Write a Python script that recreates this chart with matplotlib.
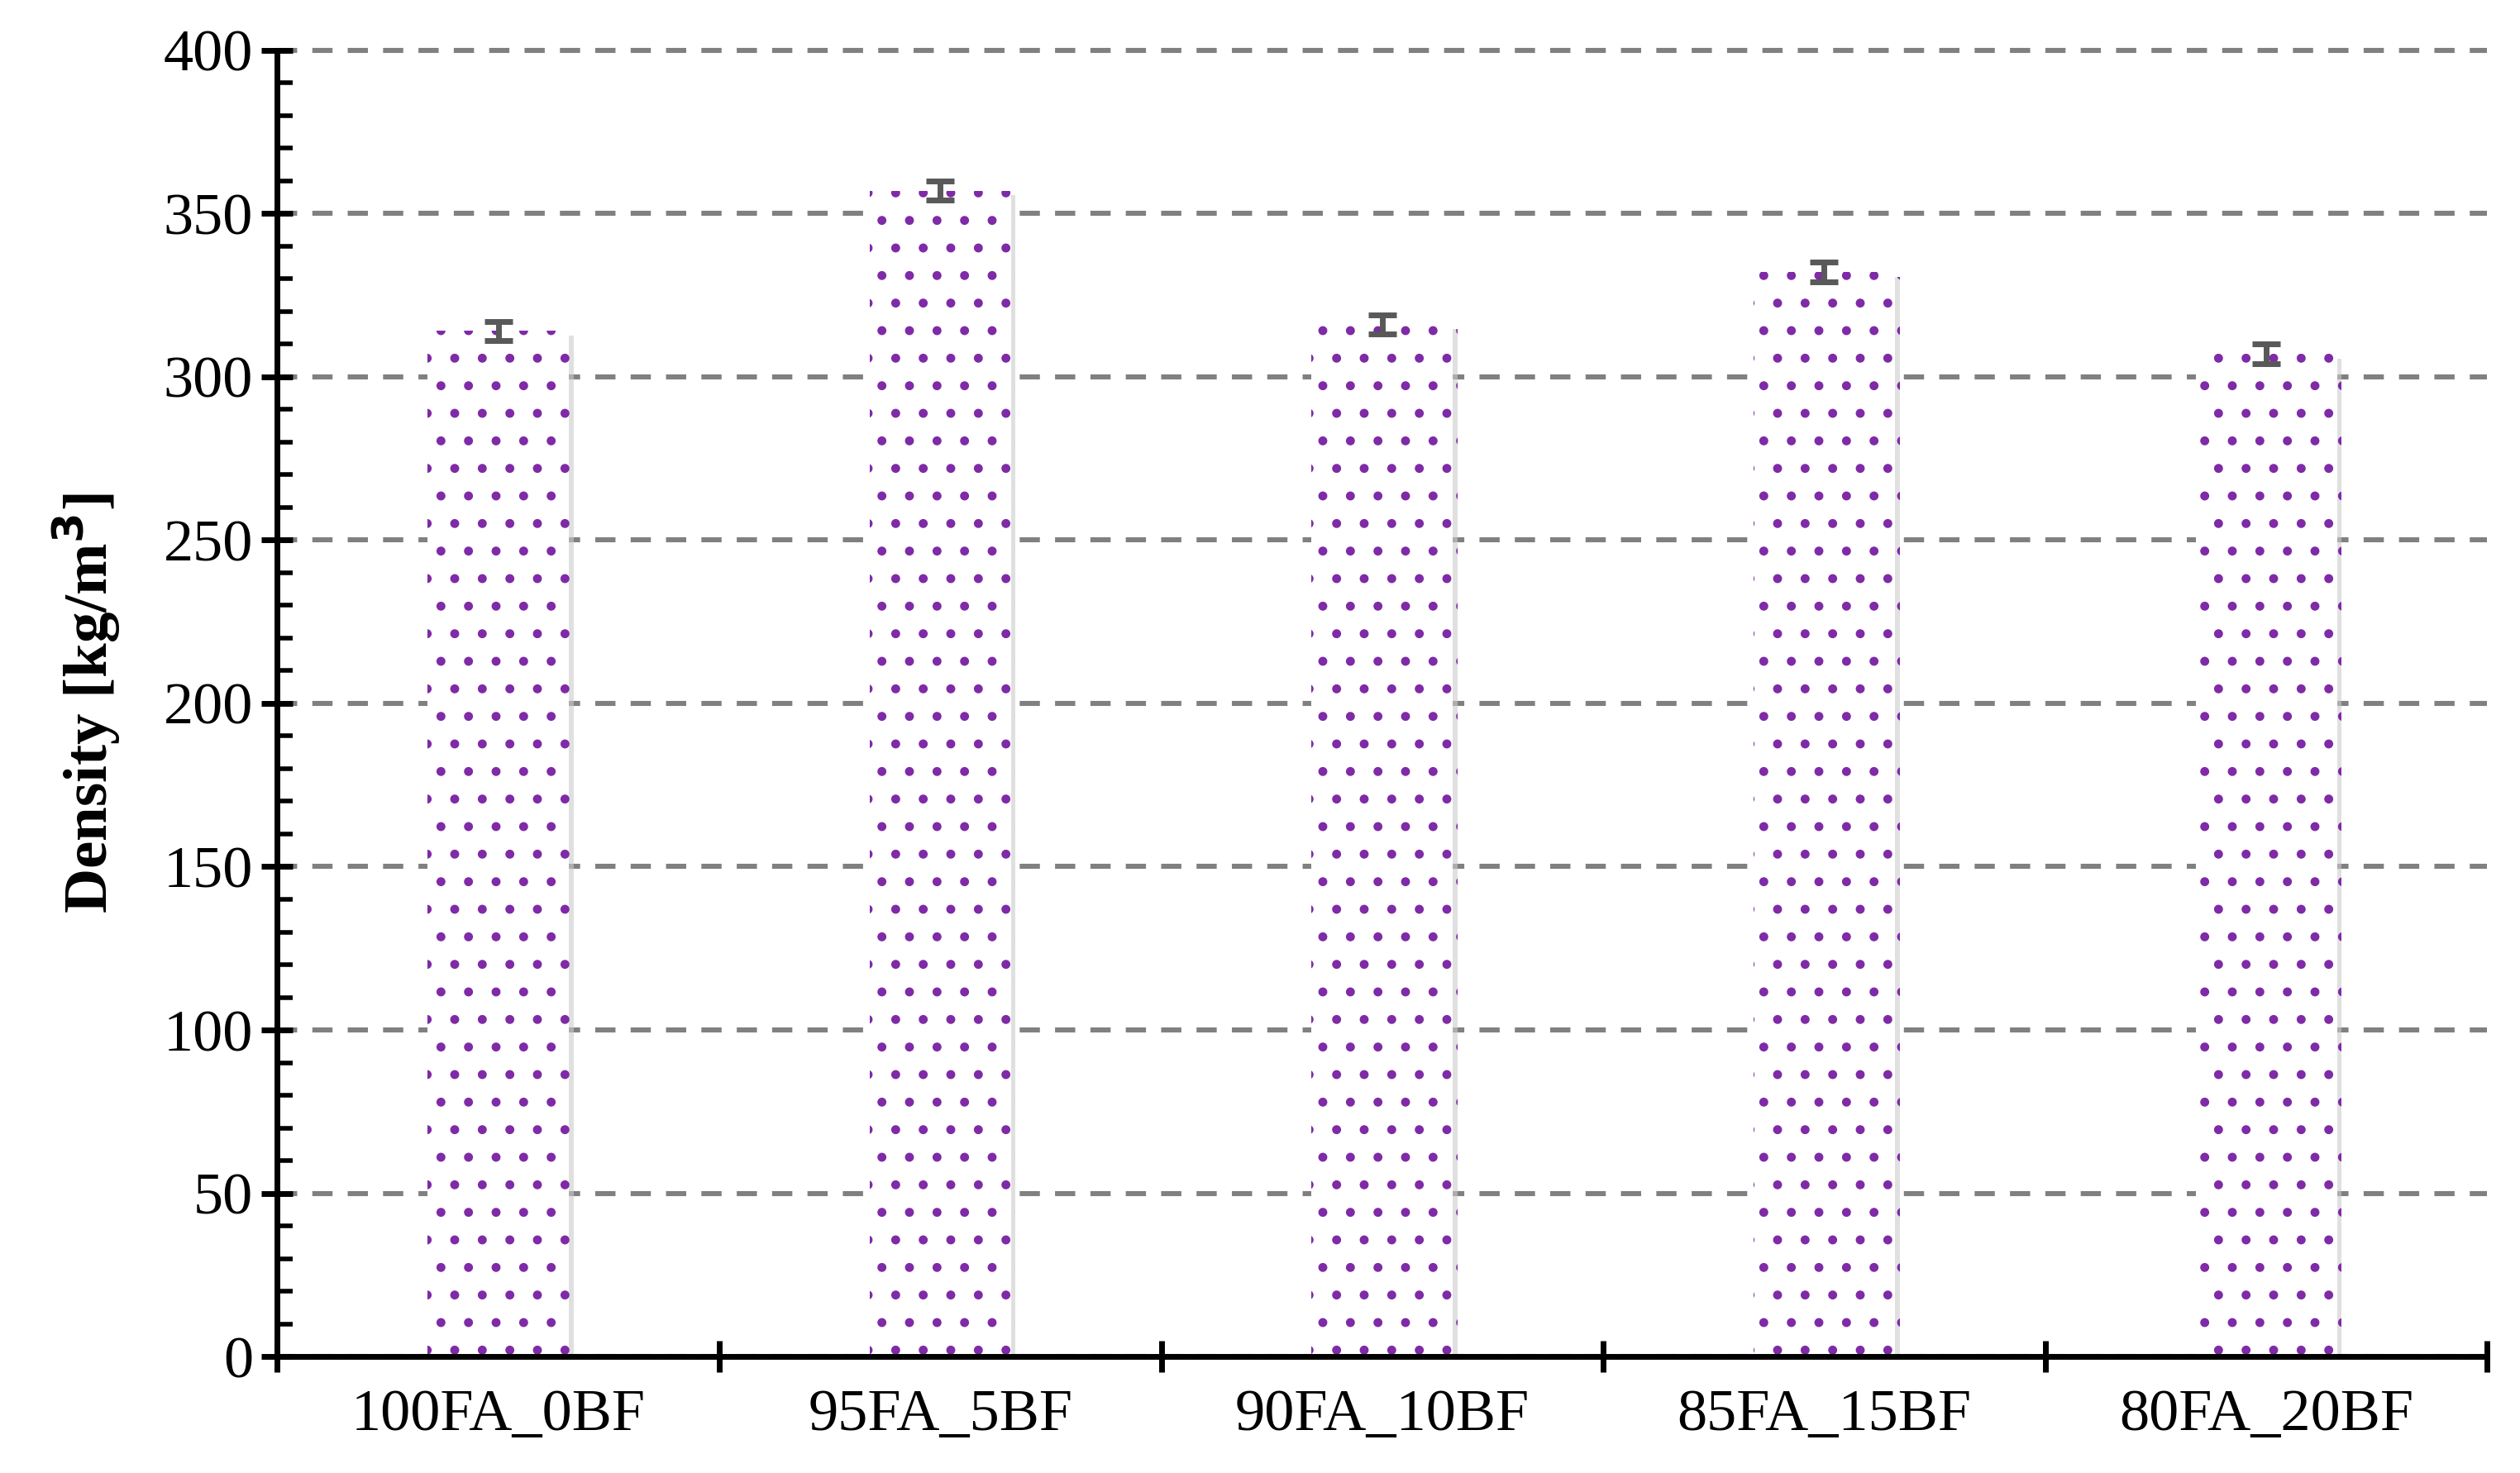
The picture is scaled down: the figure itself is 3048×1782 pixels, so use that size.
import matplotlib
matplotlib.use("Agg")
import matplotlib.pyplot as plt
import matplotlib.patheffects as pe
import numpy as np

categories = ["100FA_0BF", "95FA_5BF", "90FA_10BF", "85FA_15BF", "80FA_20BF"]
density = [314, 357, 316, 332, 307]
errors = [3, 3, 3, 3, 3]

plt.rcParams['font.family'] = ['Liberation Serif']
plt.rcParams['hatch.color'] = '#7f2aa6'
plt.rcParams['hatch.linewidth'] = 1.5

fig = plt.figure(figsize=(15.24, 8.91), dpi=200)
ax = fig.add_axes([0.110, 0.079, 0.877, 0.887])
x = np.arange(len(categories))
bars = ax.bar(x, density, width=0.32, color='white', edgecolor='#7f2aa6', linewidth=0,
              hatch='.', zorder=2)
for b in bars:
    b.set_path_effects([pe.SimplePatchShadow(offset=(2, -2), shadow_rgbFace='#cccccc', alpha=0.6), pe.Normal()])
ax.errorbar(x, density, yerr=errors, fmt='none', ecolor='#595959', elinewidth=2.5,
            capsize=6, capthick=2.5, zorder=3)
ax.set_xlim(-0.5, len(categories) - 0.5)
ax.set_ylim(0, 400)
ax.set_yticks(np.arange(0, 401, 50))
ax.set_yticks(np.arange(0, 401, 10), minor=True)
ax.set_xticks(x)
ax.set_xticklabels(categories)
ax.set_xticks(np.arange(-0.5, len(categories), 1), minor=True)
ax.tick_params(axis='x', which='major', length=0, labelsize=26, pad=14)
ax.tick_params(axis='x', which='minor', length=14, width=2.5, direction='inout')
ax.tick_params(axis='y', which='major', length=14, width=2.5, direction='inout', labelsize=26)
ax.tick_params(axis='y', which='minor', length=7, width=2, direction='in')
ax.yaxis.grid(True, linestyle=(0, (4, 3)), color='#808080', linewidth=2.2)
for gl in ax.get_ygridlines():
    gl.set_clip_on(False)
ax.set_axisbelow(True)
for s in ['top', 'right']:
    ax.spines[s].set_visible(False)
for s in ['left', 'bottom']:
    ax.spines[s].set_linewidth(2.5)
ax.set_ylabel("Density [kg/m$^\\mathbf{3}$]", fontsize=27, fontweight='bold', labelpad=18)
fig.savefig("out.png", dpi=200)
